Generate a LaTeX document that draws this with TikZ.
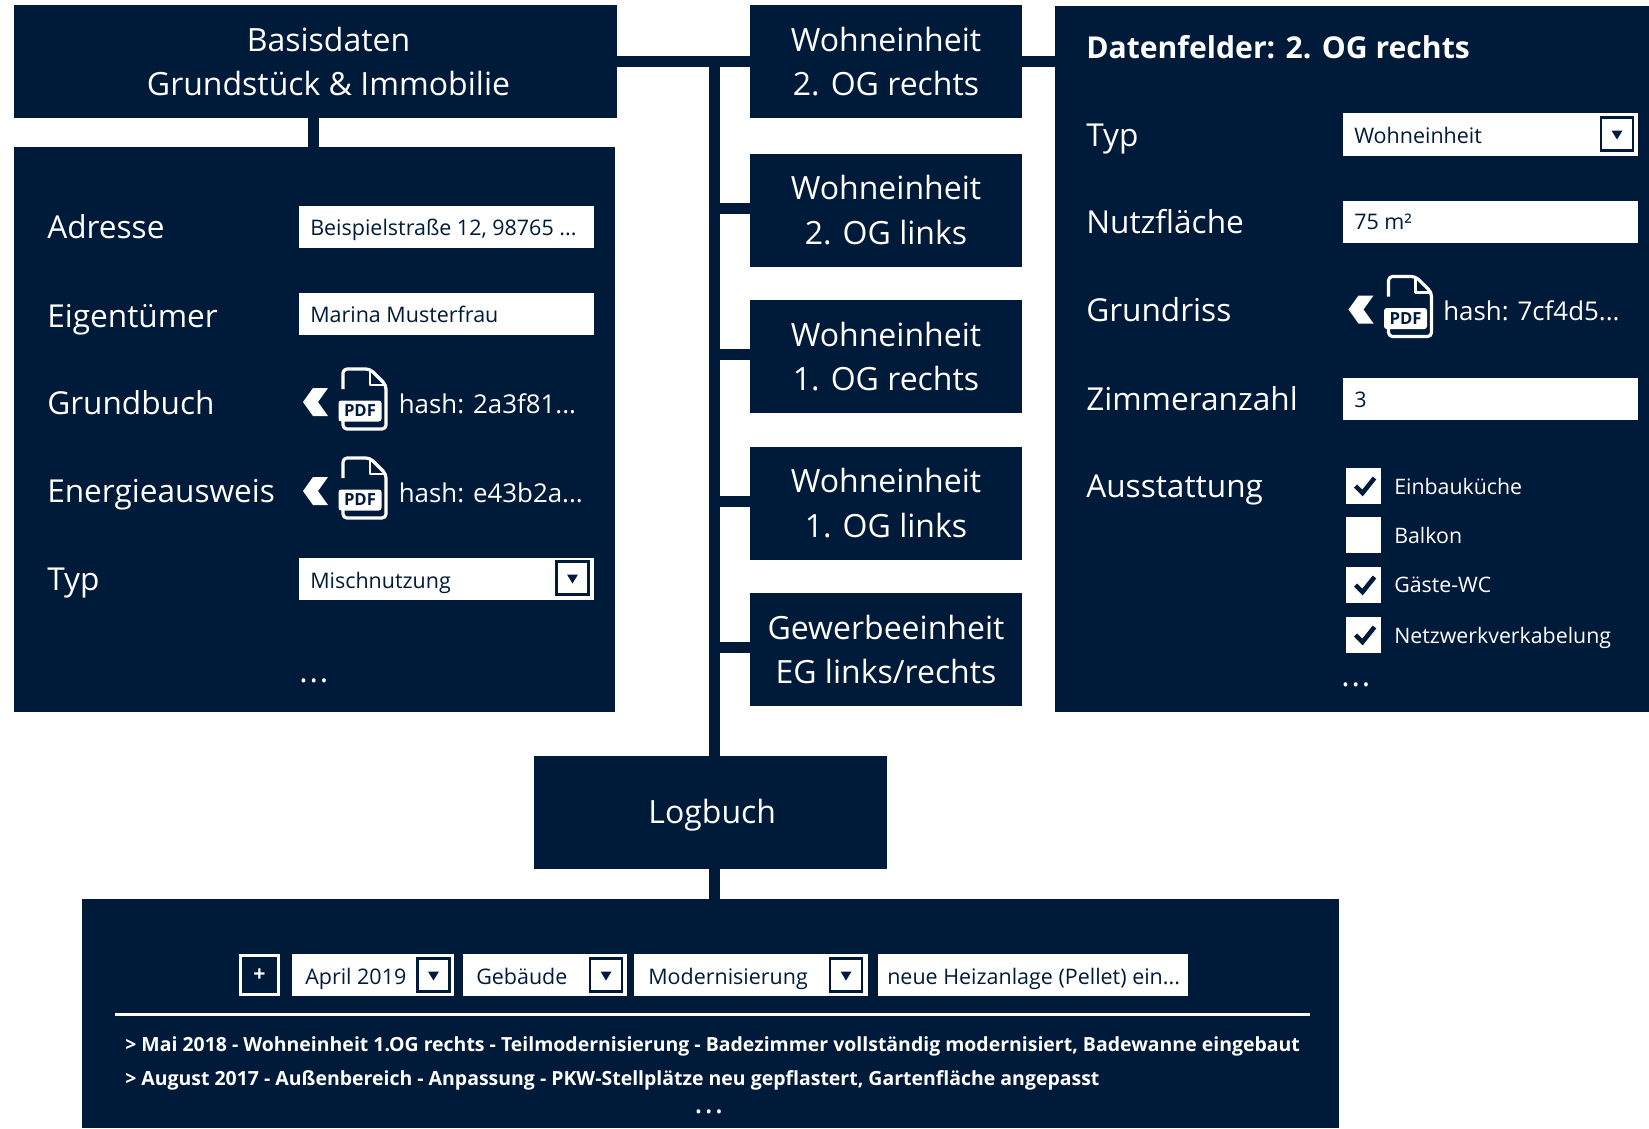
\documentclass[tikz,border=0pt]{standalone}
\usepackage{fontspec}
\setmainfont{Open Sans}
\definecolor{navy}{HTML}{001A3A}
\tikzset{
  wh/.style 2 args={minimum width=#1*.75pt, minimum height=#2*.75pt},
  panel/.style={fill=navy, inner sep=0pt, outer sep=0pt, text=white, align=center},
  head/.style={panel, font=\fontsize{24}{33.5}\selectfont},
  conn/.style={draw=navy, line width=8.25pt},
  lbl/.style={anchor=west, inner sep=0pt, yshift=-3.5pt, text=white, text height=1.2em, text depth=.12em, font=\fontsize{23.7}{30}\selectfont},
  titletext/.style={lbl, text height=1.13em, font=\fontsize{22.6}{30}\selectfont\bfseries},
  dots/.style={lbl, font=\fontsize{23.7}{30}\selectfont\addfontfeature{LetterSpace=6}},
  small/.style={anchor=west, inner sep=0pt, yshift=-.8pt, text=white, text height=1.2em, text depth=.12em, font=\fontsize{16}{20}\selectfont},
  hashtext/.style={small, yshift=-1.3pt, font=\fontsize{19.4}{24}\selectfont},
  logline/.style={anchor=west, inner sep=0pt, yshift=-1.5pt, text=white, text height=1.16em, text depth=.12em, font=\fontsize{14.6}{20}\selectfont\bfseries},
  field/.style={fill=white, inner sep=0pt, outer sep=0pt},
  ftext/.style={anchor=west, inner sep=0pt, yshift=-.8pt, text=navy, text height=1.1em, text depth=.12em, font=\fontsize{16.1}{20}\selectfont},
  ddbox/.style={fill=white, draw=navy, line width=2.2pt, inner sep=0pt, minimum width=24pt, minimum height=25pt},
  tick/.style={draw=navy, line width=3.4pt, line cap=butt, line join=miter},
}
\newcommand\ddarrow[1]{\fill[navy, shift={(#1)}] (-5.5,-4) -- (5.5,-4) -- (0,5) -- cycle;}
\newcommand\chev[1]{\fill[white, shift={(#1)}] (0,0) -- (10,-14) -- (25,-14) -- (15,0) -- (25,14) -- (10,14) -- cycle;}
\newcommand\pdficon[2]{%
  \begin{scope}[shift={(#2)}]
    \draw[white, line width=2.4pt, line join=round, rounded corners=3pt]
      (0,20) -- (0,0) -- (27,0) -- (43,16) -- (43,60) -- (0,60) -- (0,50);
    \draw[white, line width=2.2pt, line join=round] (27,1) -- (27,16) -- (43,16);
    \node[fill=white, rounded corners=2pt, inner sep=0pt, wh={43}{21}, text=navy, font=\fontsize{12.5}{14}\selectfont\bfseries] (#1) at (17,42) {PDF};
  \end{scope}}
\newcommand\tickin[1]{\draw[tick] ([shift={(-8,0)}]#1.center) -- ++(7,7) -- ++(12,-15);}
\begin{document}
\begin{tikzpicture}[x=.75pt,y=-.75pt]
\useasboundingbox (0,0) rectangle (1649,1128);

% boxes
\node[head, wh={603}{113}] (basis) at (315.5,61.5) {\hspace*{19.5pt}Basisdaten\\\hspace*{19.5pt}Grundstück \& Immobilie};
\node[panel, wh={600.5}{565}] (leftp) at (314.25,429.5) {};
\node[head, wh={272}{113}] (w1) at (886,61.5) {Wohneinheit\\2. OG rechts};
\node[head, wh={272}{113}] (w2) at (886,210) {Wohneinheit\\2. OG links};
\node[head, wh={272}{113}] (w3) at (886,356.5) {Wohneinheit\\1. OG rechts};
\node[head, wh={272}{113}] (w4) at (886,503) {Wohneinheit\\1. OG links};
\node[head, wh={272}{113}] (w5) at (886,649.5) {Gewerbeeinheit\\EG links/rechts};
\node[panel, wh={594}{706.5}] (rightp) at (1352,358.75) {};
\node[head, wh={352.5}{113}] (logb) at (710.25,812) {\hspace*{3pt}\raisebox{-8.75pt}[0pt][0pt]{Logbuch}};
\node[panel, wh={1257}{229}] (logp) at (710.5,1013.5) {};

% connectors
\coordinate (trunk) at (714,61.5);
\draw[conn] (basis.east) -- (w1.west);
\draw[conn] (w1.east) -- (w1.east -| rightp.west);
\draw[conn] ([xshift=-.8pt]leftp.north) -- ([xshift=-.8pt]leftp.north |- basis.south);
\draw[conn] ([yshift=4.125pt]trunk) -- (trunk |- logb.north);
\draw[conn] (trunk |- logb.south) -- (trunk |- logp.north);
\draw[conn] ([yshift=1.5pt]w2.west) -- ([yshift=1.5pt]trunk |- w2.west);
\draw[conn] ([yshift=1.5pt]w3.west) -- ([yshift=1.5pt]trunk |- w3.west);
\draw[conn] ([yshift=1.5pt]w4.west) -- ([yshift=1.5pt]trunk |- w4.west);
\draw[conn] ([yshift=1.5pt]w5.west) -- ([yshift=1.5pt]trunk |- w5.west);

% left panel
\node[lbl] (l1) at (47,227) {Adresse};
\node[lbl] (l2) at (47,315.5) {Eigentümer};
\node[lbl] (l3) at (47,403) {Grundbuch};
\node[lbl] (l4) at (47,491) {Energieausweis};
\node[lbl] (l5) at (47,579) {Typ};
\node[field, wh={295}{42}] (f1) at (446,226.5) {};
\node[field, wh={295}{42}] (f2) at (446,314) {};
\node[field, wh={295}{42}] (f5) at (446,579) {};
\node[ftext] (f1t) at (310,227.5) {Beispielstraße 12, 98765 ...};
\node[ftext] (f2t) at (310,315) {Marina Musterfrau};
\node[ftext] (f5t) at (310,580.5) {Mischnutzung};
\node[ddbox] (d1) at (572.5,578) {};
\ddarrow{572.5,578.5}
\chev{303,402}
\chev{303,491}
\pdficon{p1}{343,369}
\pdficon{p2}{343,458}
\node[hashtext] (h1) at (398.5,403) {hash: 2a3f81...};
\node[hashtext] (h2) at (398.5,492) {hash: e43b2a...};
\node[dots] (ld) at (299,671) {...};

% right panel
\node[titletext, yshift=.3pt] (rt) at (1086,47) {Datenfelder: 2. OG rechts};
\node[lbl] (r1) at (1086,135) {Typ};
\node[lbl] (r2) at (1086,222) {Nutzfläche};
\node[lbl] (r3) at (1086,310) {Grundriss};
\node[lbl] (r4) at (1086,398.5) {Zimmeranzahl};
\node[lbl] (r5) at (1086,486) {Ausstattung};
\node[field, wh={295}{43}] (g1) at (1490.5,134) {};
\node[field, wh={295}{42}] (g2) at (1490.5,221.5) {};
\node[field, wh={295}{42}] (g4) at (1490.5,399) {};
\node[ftext] (g1t) at (1354,135.5) {Wohneinheit};
\node[ftext] (g2t) at (1354,221.5) {75 m²};
\node[ftext] (g4t) at (1354,399.5) {3};
\node[ddbox] (d2) at (1617,134) {};
\ddarrow{1617,134.5}
\chev{1348.5,309.5}
\pdficon{p3}{1388.5,276.5}
\node[hashtext] (h3) at (1443,310.5) {hash: 7cf4d5...};
\node[field, wh={35}{36}] (c1) at (1363.5,486) {};
\node[field, wh={35}{36}] (c2) at (1363.5,534.5) {};
\node[field, wh={35}{36}] (c3) at (1363.5,585) {};
\node[field, wh={35}{36}] (c4) at (1363.5,635) {};
\tickin{c1}
\tickin{c3}
\tickin{c4}
\node[small] (c1t) at (1394,486) {Einbauküche};
\node[small] (c2t) at (1394,535) {Balkon};
\node[small] (c3t) at (1394,584.5) {Gäste-WC};
\node[small] (c4t) at (1394,635) {Netzwerkverkabelung};
\node[dots] (rd) at (1341,675) {...};

% log panel
\node[fill=navy, draw=white, line width=2.2pt, wh={38}{39}, inner sep=0pt, text=white, font=\fontsize{16}{20}\selectfont\bfseries] (plus) at (259.5,975) {+};
\node[field, wh={162}{42}] (a1) at (373,975) {};
\node[field, wh={164}{42}] (a2) at (545,975) {};
\node[field, wh={234}{42}] (a3) at (751,975) {};
\node[field, wh={310}{42}] (a4) at (1033,975) {};
\node[ftext] (a1t) at (305,977) {April 2019};
\node[ftext] (a2t) at (476,977) {Gebäude};
\node[ftext] (a3t) at (648,977) {Modernisierung};
\node[ftext] (a4t) at (887,977) {neue Heizanlage (Pellet) ein...};
\node[ddbox] (d3) at (433.5,975) {};
\node[ddbox] (d4) at (606,975) {};
\node[ddbox] (d5) at (846,975) {};
\ddarrow{433.5,975.5}
\ddarrow{606,975.5}
\ddarrow{846,975.5}
\coordinate (ruleL) at (115,1014.5);
\coordinate (ruleR) at (1310,1014.5);
\draw[white, line width=2.4pt] (ruleL) -- (ruleR);
\node[logline] (x1) at (125,1043) {> Mai 2018 - Wohneinheit 1.OG rechts - Teilmodernisierung - Badezimmer vollständig modernisiert, Badewanne eingebaut};
\node[logline] (x2) at (125,1077) {> August 2017 - Außenbereich - Anpassung - PKW-Stellplätze neu gepflastert, Gartenfläche angepasst};
\node[dots] (xd) at (694,1102) {...};
\end{tikzpicture}
\end{document}
